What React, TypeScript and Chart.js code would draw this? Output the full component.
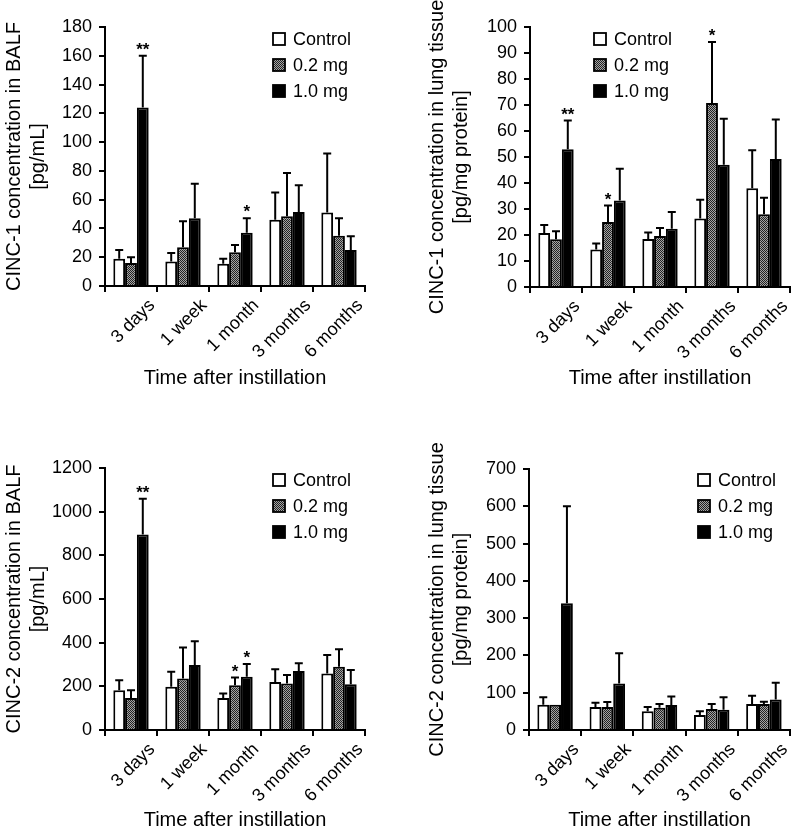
import React, { useEffect, useRef } from "react";
import { Chart, registerables } from "chart.js";

Chart.register(...registerables);

const FONT = "'Liberation Sans', Arial, Helvetica, sans-serif";
Chart.defaults.font.family = FONT;
Chart.defaults.color = "#000";

// ---------- data ----------
const categories = ["3 days", "1 week", "1 month", "3 months", "6 months"];
const seriesNames = ["Control", "0.2 mg", "1.0 mg"];
const xTitle = "Time after instillation";

// Panel A: CINC-1 in BALF
const aControl = [19, 17, 15.5, 46, 51];
const aControlSd = [6, 6, 3.5, 19, 41];
const aLow = [16, 27, 23.5, 48.5, 35];
const aLowSd = [4, 18, 5, 30, 12];
const aHigh = [124, 47, 37, 51.5, 25];
const aHighSd = [36, 24, 10, 18.5, 9.5];
const aLowStars = ["", "", "", "", ""];
const aHighStars = ["**", "", "*", "", ""];
const aTitle = ["CINC-1 concentration in BALF", "[pg/mL]"];
const aMax = 180;
const aStep = 20;

// Panel B: CINC-1 in lung tissue
const bControl = [20.8, 14.4, 18.5, 26.3, 38];
const bControlSd = [3, 2.3, 2.5, 7.3, 14.6];
const bLow = [18.4, 25, 19.6, 70.8, 28];
const bLowSd = [3, 6.3, 3.1, 23.4, 6.3];
const bHigh = [53, 33.3, 22.4, 47, 49.2];
const bHighSd = [11, 12.2, 6.4, 17.7, 15.2];
const bLowStars = ["", "*", "", "*", ""];
const bHighStars = ["**", "", "", "", ""];
const bTitle = ["CINC-1 concentration in lung tissue", "[pg/mg protein]"];
const bMax = 100;
const bStep = 10;

// Panel C: CINC-2 in BALF
const cControl = [182, 198, 147, 220, 259];
const cControlSd = [46, 69, 20, 58, 85];
const cLow = [147, 236, 205, 213, 290];
const cLowSd = [35, 142, 35, 39, 80];
const cHigh = [895, 298, 244, 270, 210];
const cHighSd = [164, 108, 58, 36, 65];
const cLowStars = ["", "", "*", "", ""];
const cHighStars = ["**", "", "*", "", ""];
const cTitle = ["CINC-2 concentration in BALF", "[pg/mL]"];
const cMax = 1200;
const cStep = 200;

// Panel D: CINC-2 in lung tissue
const dControl = [68, 62, 50, 40, 70];
const dControlSd = [20, 11, 12, 10, 22];
const dLow = [68, 62, 60, 56, 70];
const dLowSd = [0, 13, 10, 14, 6];
const dHigh = [340, 125, 67, 54, 82];
const dHighSd = [260, 81, 23, 34, 45];
const dLowStars = ["", "", "", "", ""];
const dHighStars = ["", "", "", "", ""];
const dTitle = ["CINC-2 concentration in lung tissue", "[pg/mg protein]"];
const dMax = 700;
const dStep = 100;

const noStars = ["", "", "", "", ""];

// ---------- plugins ----------
const errorBarPlugin = {
  id: "errorBars",
  afterDatasetsDraw(chart: any) {
    const ctx = chart.ctx;
    const yScale = chart.scales.y;
    chart.data.datasets.forEach((ds: any, i: number) => {
      const meta = chart.getDatasetMeta(i);
      meta.data.forEach((el: any, j: number) => {
        const v = ds.data[j];
        const sd = ds.sd ? ds.sd[j] : 0;
        const top = yScale.getPixelForValue(v);
        const cap = yScale.getPixelForValue(v + sd);
        ctx.save();
        ctx.strokeStyle = "#000";
        ctx.lineWidth = 2;
        if (sd > 0) {
          ctx.beginPath();
          ctx.moveTo(el.x, top);
          ctx.lineTo(el.x, cap);
          ctx.moveTo(el.x - 4, cap);
          ctx.lineTo(el.x + 4, cap);
          ctx.stroke();
        }
        const star = ds.stars ? ds.stars[j] : "";
        if (star) {
          ctx.fillStyle = "#000";
          ctx.font = `bold 17px ${FONT}`;
          ctx.textAlign = "center";
          ctx.textBaseline = "alphabetic";
          ctx.fillText(star, el.x, cap - 1);
        }
        ctx.restore();
      });
    });
  },
};

const boxLegendPlugin = {
  id: "boxLegend",
  afterDraw(chart: any, _args: any, opts: any) {
    const ctx = chart.ctx;
    const x = opts.x;
    const y0 = opts.y;
    const gap = 26;
    const size = 12;
    chart.data.datasets.forEach((ds: any, i: number) => {
      const cy = y0 + i * gap;
      ctx.save();
      ctx.fillStyle = ds.backgroundColor;
      ctx.fillRect(x, cy - size / 2, size, size);
      ctx.strokeStyle = "#000";
      ctx.lineWidth = 1.8;
      ctx.strokeRect(x, cy - size / 2, size, size);
      ctx.fillStyle = "#000";
      ctx.font = `18px ${FONT}`;
      ctx.textAlign = "left";
      ctx.textBaseline = "middle";
      ctx.fillText(ds.label, x + 20, cy + 1);
      ctx.restore();
    });
  },
};

function makePattern(ctx: CanvasRenderingContext2D) {
  const pc = document.createElement("canvas");
  pc.width = 2;
  pc.height = 2;
  const p = pc.getContext("2d")!;
  p.fillStyle = "#a4a4a4";
  p.fillRect(0, 0, 2, 2);
  p.fillStyle = "#222222";
  p.fillRect(0, 0, 1, 1);
  p.fillRect(1, 1, 1, 1);
  return ctx.createPattern(pc, "repeat");
}

type PanelProps = {
  control: number[];
  controlSd: number[];
  low: number[];
  lowSd: number[];
  high: number[];
  highSd: number[];
  lowStars: string[];
  highStars: string[];
  title: string[];
  max: number;
  step: number;
  layout: {
    yWidth: number;
    yTitlePad: number;
    top: number;
    right: number;
    xHeight: number;
    xTitlePad: number;
    legendX: number;
    legendY: number;
  };
};

const W = 398;
const H = 416;

function Panel(props: PanelProps) {
  const ref = useRef<HTMLCanvasElement>(null);
  useEffect(() => {
    const canvas = ref.current!;
    const ctx = canvas.getContext("2d")!;
    const pattern = makePattern(ctx);
    const L = props.layout;
    const chart = new Chart(ctx, {
      type: "bar",
      data: {
        labels: categories,
        datasets: [
          {
            label: seriesNames[0],
            data: props.control,
            sd: props.controlSd,
            stars: noStars,
            backgroundColor: "#ffffff",
            borderColor: "#000",
            borderWidth: 2,
          },
          {
            label: seriesNames[1],
            data: props.low,
            sd: props.lowSd,
            stars: props.lowStars,
            backgroundColor: pattern,
            borderColor: "#000",
            borderWidth: 2,
          },
          {
            label: seriesNames[2],
            data: props.high,
            sd: props.highSd,
            stars: props.highStars,
            backgroundColor: "#000000",
            borderColor: "#000",
            borderWidth: 2,
          },
        ] as any,
      },
      options: {
        responsive: false,
        animation: false,
        devicePixelRatio: 1,
        layout: { padding: { left: 0, top: L.top, right: L.right, bottom: 0 } },
        datasets: { bar: { categoryPercentage: 0.68, barPercentage: 1 } },
        plugins: {
          legend: { display: false },
          tooltip: { enabled: false },
          boxLegend: { x: L.legendX, y: L.legendY },
        } as any,
        scales: {
          x: {
            grid: {
              display: true,
              drawOnChartArea: false,
              drawTicks: true,
              tickLength: 6,
              color: "#000",
              lineWidth: 2,
              offset: true,
            },
            border: { display: true, color: "#000", width: 2 },
            ticks: {
              autoSkip: false,
              maxRotation: 45,
              minRotation: 45,
              labelOffset: 21,
              padding: 3,
              color: "#000",
              font: { size: 18, family: FONT },
            },
            title: {
              display: true,
              text: xTitle,
              color: "#000",
              font: { size: 20, family: FONT },
              padding: { top: 0, bottom: L.xTitlePad },
            },
            afterFit(scale: any) {
              scale.height = L.xHeight;
            },
          },
          y: {
            min: 0,
            max: props.max,
            grid: {
              display: true,
              drawOnChartArea: false,
              drawTicks: true,
              tickLength: 6,
              color: "#000",
              lineWidth: 2,
            },
            border: { display: true, color: "#000", width: 2 },
            ticks: {
              stepSize: props.step,
              padding: 7,
              color: "#000",
              font: { size: 18, family: FONT },
              callback: (v: any) => String(v),
            },
            title: {
              display: true,
              text: props.title,
              color: "#000",
              font: { size: 20, family: FONT },
              padding: { top: L.yTitlePad, bottom: 0 },
            },
            afterFit(scale: any) {
              scale.width = L.yWidth;
            },
          },
        },
      },
      plugins: [errorBarPlugin, boxLegendPlugin],
    } as any);
    return () => chart.destroy();
  }, []);
  return (
    <canvas
      ref={ref}
      width={W}
      height={H}
      style={{ width: W, height: H, display: "block" }}
    />
  );
}

export default function App() {
  return (
    <div
      style={{
        position: "absolute",
        left: 0,
        top: 0,
        width: 796,
        height: 832,
        background: "#fff",
        display: "grid",
        gridTemplateColumns: `${W}px ${W}px`,
        gridTemplateRows: `${H}px ${H}px`,
      }}
    >
      <Panel
        control={aControl}
        controlSd={aControlSd}
        low={aLow}
        lowSd={aLowSd}
        high={aHigh}
        highSd={aHighSd}
        lowStars={aLowStars}
        highStars={aHighStars}
        title={aTitle}
        max={aMax}
        step={aStep}
        layout={{ yWidth: 105, yTitlePad: 2, top: 27, right: 33, xHeight: 130, xTitlePad: 26, legendX: 273, legendY: 39 }}
      />
      <Panel
        control={bControl}
        controlSd={bControlSd}
        low={bLow}
        lowSd={bLowSd}
        high={bHigh}
        highSd={bHighSd}
        lowStars={bLowStars}
        highStars={bHighStars}
        title={bTitle}
        max={bMax}
        step={bStep}
        layout={{ yWidth: 132, yTitlePad: 27, top: 27, right: 6, xHeight: 129, xTitlePad: 26, legendX: 196, legendY: 39 }}
      />
      <Panel
        control={cControl}
        controlSd={cControlSd}
        low={cLow}
        lowSd={cLowSd}
        high={cHigh}
        highSd={cHighSd}
        lowStars={cLowStars}
        highStars={cHighStars}
        title={cTitle}
        max={cMax}
        step={cStep}
        layout={{ yWidth: 105, yTitlePad: 2, top: 52, right: 33, xHeight: 102, xTitlePad: 0, legendX: 273, legendY: 64 }}
      />
      <Panel
        control={dControl}
        controlSd={dControlSd}
        low={dLow}
        lowSd={dLowSd}
        high={dHigh}
        highSd={dHighSd}
        lowStars={dLowStars}
        highStars={dHighStars}
        title={dTitle}
        max={dMax}
        step={dStep}
        layout={{ yWidth: 131, yTitlePad: 27, top: 53, right: 6, xHeight: 102, xTitlePad: 0, legendX: 300, legendY: 64 }}
      />
    </div>
  );
}
